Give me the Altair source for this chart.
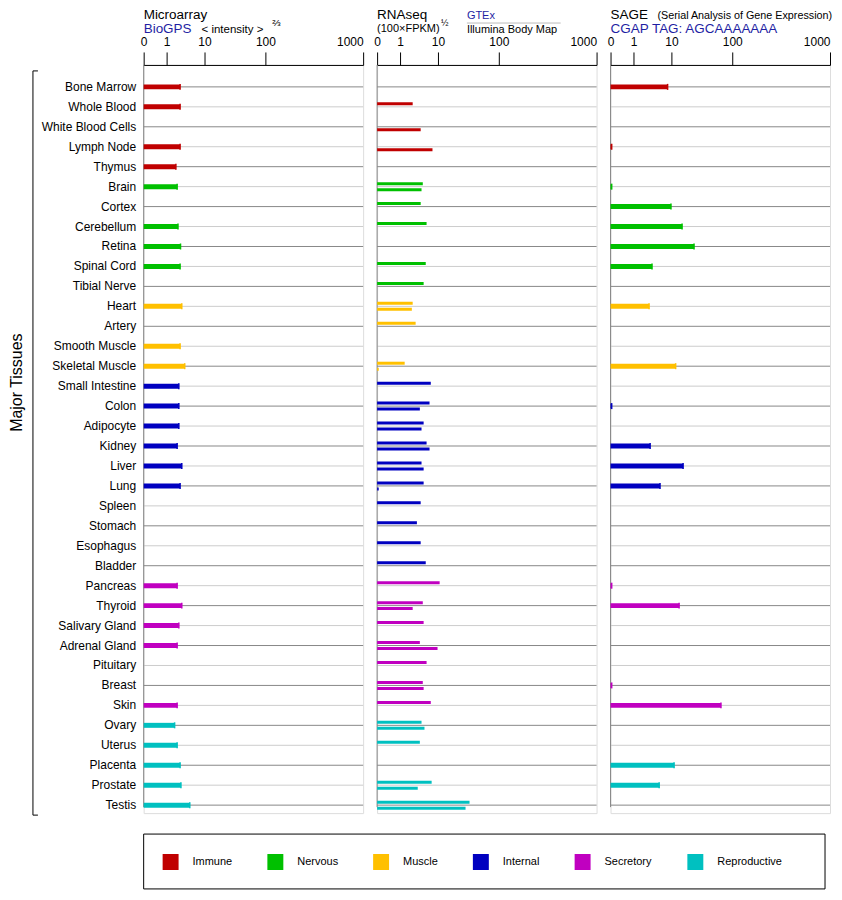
import altair as alt
import pandas as pd

FONT = "Liberation Sans, Arial, Helvetica, sans-serif"

tissues = ["Bone Marrow", "Whole Blood", "White Blood Cells", "Lymph Node", "Thymus",
           "Brain", "Cortex", "Cerebellum", "Retina", "Spinal Cord", "Tibial Nerve",
           "Heart", "Artery", "Smooth Muscle", "Skeletal Muscle",
           "Small Intestine", "Colon", "Adipocyte", "Kidney", "Liver", "Lung", "Spleen",
           "Stomach", "Esophagus", "Bladder",
           "Pancreas", "Thyroid", "Salivary Gland", "Adrenal Gland", "Pituitary", "Breast", "Skin",
           "Ovary", "Uterus", "Placenta", "Prostate", "Testis"]
systems = (["Immune"] * 5 + ["Nervous"] * 6 + ["Muscle"] * 4 + ["Internal"] * 10
           + ["Secretory"] * 7 + ["Reproductive"] * 5)
system_names = ["Immune", "Nervous", "Muscle", "Internal", "Secretory", "Reproductive"]
system_colors = ["#c00000", "#00c000", "#ffc000", "#0000c0", "#c000c0", "#00c0c0"]

microarray = [4.2, 4.2, None, 4.2, 3.2, 3.5, None, 3.7, 4.3, 4.2, None, 4.6, None, 4.2, 5.3,
              3.9, 3.9, 3.9, 3.5, 4.6, 4.2, None, None, None, None, 3.5, 4.6, 3.9, 3.5, None,
              None, 3.5, 2.9, 3.5, 4.2, 4.4, 6.5]
gtex = [None, 4.0, None, None, None, 6.4, 5.9, 7.3, None, 7.1, 6.6, 4.0, 4.7, None, 2.1,
        8.3, 8.0, 6.6, 7.3, 6.1, 6.6, 5.9, 5.0, 5.9, 7.1, 12.5, 6.4, 6.6, 5.7, 7.3,
        6.4, 8.3, 6.1, 5.7, None, 8.5, 56.7]
ibm = [None, None, 5.9, 8.7, None, 6.1, None, None, None, None, None, 3.8, None, None, 0.07,
       None, 5.7, 6.1, 8.0, 6.6, 0.07, None, None, None, None, None, 4.0, None, 9.9, None,
       6.6, None, 6.8, None, None, 5.2, 50.8]
sage = [9.1, None, None, 0.05, None, 0.05, 9.9, 25.8, 43.5, 5.4, None, 4.7, None, None, 16.3,
        None, 0.05, None, 4.95, 27.3, 7.3, None, None, None, None, 0.05, 21.4, None, None, None,
        0.05, 83.3, None, None, 14.0, 7.1, None]
axis_ticks = [0, 1, 10, 100, 1000]

df = pd.DataFrame({"tissue": tissues, "system": systems, "idx": list(range(len(tissues))),
                   "microarray": microarray, "gtex": gtex, "ibm": ibm, "sage": sage})
one = pd.DataFrame({"a": [0]})

W, H = 220, 750

xscale = alt.Scale(domain=axis_ticks, range=[0, 23, 61, 122, 220], nice=False, zero=False)
xaxis = alt.Axis(orient="top", values=axis_ticks, title=None, tickSize=13, tickColor="black",
                 domainColor="black", labelColor="black", labelFontSize=12, labelPadding=3,
                 grid=False, labelFlush=False, labelFont=FONT, format="d",
                 labelAlign={"expr": "datum.value == 1000 ? 'right' : 'center'"})

yaxis1 = alt.Axis(title="Major Tissues", labelFontSize=12, labelColor="black", labelPadding=8,
                  ticks=False, domain=False, labelLimit=0, labelFont=FONT,
                  titleFontSize=16, titleFontWeight="normal", titleColor="black", titleFont=FONT,
                  titleX=-127, titleY=318, titleAngle=270, titleAlign="center",
                  titleBaseline="middle")

legend_def = alt.Legend(title=None, orient="none", legendX=19, legendY=791,
                        direction="horizontal", symbolType="square", symbolSize=256,
                        symbolStrokeWidth=0, symbolOpacity=1, labelFontSize=11,
                        labelColor="black", labelOffset=14, columnPadding=35, padding=0,
                        labelFont=FONT)

color = alt.Color("system:N", scale=alt.Scale(domain=system_names, range=system_colors),
                  legend=legend_def)


def Y(axis):
    return alt.Y("tissue:N", scale=alt.Scale(domain=tissues, range=[12, 752],
                                             paddingInner=0, paddingOuter=0), axis=axis)


def X(field):
    return alt.X(f"{field}:Q", scale=xscale, axis=xaxis)


def txt(s, x, y, size, col="black"):
    return alt.Chart(pd.DataFrame({"t": [s]})).mark_text(
        align="left", baseline="alphabetic", fontSize=size, color=col, font=FONT
    ).encode(text="t:N", x=alt.value(x), y=alt.value(y))


def rule(x, x2, y, y2, col, w=1):
    return alt.Chart(one).mark_rule(color=col, strokeWidth=w).encode(
        x=alt.value(x), x2=alt.value(x2), y=alt.value(y), y2=alt.value(y2))


def grid(axis):
    return alt.Chart(df).transform_calculate(
        gc="datum.idx % 2 == 0 ? '#888888' : '#cccccc'"
    ).mark_rule(strokeWidth=1).encode(
        y=Y(axis), x=alt.value(0), x2=alt.value(W), stroke=alt.Stroke("gc:N", scale=None))


def thick_bars(field, axis):
    base = alt.Chart(df).transform_filter(f"isValid(datum.{field})")
    bars = base.mark_bar(size=5).encode(x=X(field), y=Y(axis), color=color)
    caps = base.mark_tick(size=6, thickness=1.5, opacity=1).encode(
        x=X(field), y=Y(axis), color=color)
    return [bars, caps]


BLUE = "#1f1fa3"
vline = rule(0, 0, 0, 744, "#888888")

# Panel 1: Microarray
p1 = alt.layer(
    grid(yaxis1), vline, *thick_bars("microarray", yaxis1),
    txt("Microarray", 0, -46, 13.5), txt("BioGPS", 0, -32, 13.5, BLUE),
    txt("< intensity >", 58, -32, 11.5), txt("⅔", 129, -39, 10),
    rule(-111, -111, 6, 752, "black"), rule(-111, -106, 6, 6, "black"),
    rule(-111, -106, 752, 752, "black"),
    alt.Chart(one).mark_rect(fillOpacity=0, stroke="black", strokeWidth=1).encode(
        x=alt.value(0), x2=alt.value(683), y=alt.value(771), y2=alt.value(826)),
).properties(width=W, height=H)

# Panel 2: RNAseq
base2 = alt.Chart(df)
g_bars = base2.transform_filter("isValid(datum.gtex)").mark_bar(size=3, yOffset=-3).encode(
    x=X("gtex"), y=Y(None), color=color)
i_bars = base2.transform_filter("isValid(datum.ibm)").mark_bar(size=3, yOffset=3).encode(
    x=X("ibm"), y=Y(None), color=color)
p2 = alt.layer(
    grid(None), vline, g_bars, i_bars,
    txt("RNAseq", 0, -46, 13.5), txt("(100×FPKM)", 0, -33, 11), txt("½", 64, -39, 9),
    txt("GTEx", 90, -46, 11, BLUE), rule(90, 184, -42, -42, "#bbbbbb"),
    txt("Illumina Body Map", 90, -32, 11),
).properties(width=W, height=H)

# Panel 3: SAGE
p3 = alt.layer(
    grid(None), vline, *thick_bars("sage", None),
    txt("SAGE", 0, -46, 13.5), txt("(Serial Analysis of Gene Expression)", 47, -46, 10.8),
    txt("CGAP TAG: AGCAAAAAAA", 0, -32, 13.5, BLUE),
).properties(width=W, height=H)

chart = alt.hconcat(p1, p2, p3, spacing=14, bounds="flush").resolve_scale(
    x="independent", y="independent", color="shared"
).resolve_legend(color="shared").properties(
    padding={"top": -2, "left": 0, "right": 0, "bottom": 0}
).configure_view(stroke=None).configure(font=FONT)

chart.save("out.html", embed_options={"renderer": "svg", "actions": False})
